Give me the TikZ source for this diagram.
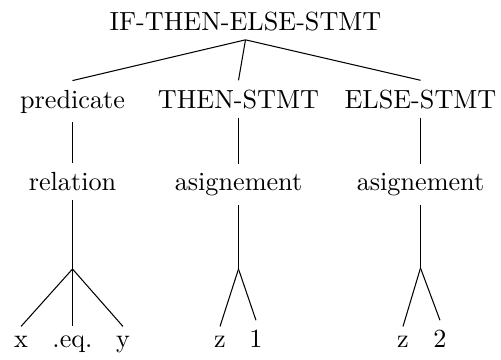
\documentclass[tikz,border=0pt]{standalone}
\usepackage{tikz}
\usetikzlibrary{positioning}

\begin{document}
\begin{tikzpicture}[
      x=0.3817pt, y=-0.3817pt,
      lbl/.style={anchor=base, inner sep=3.33pt},
      edge/.style={draw, line width=0.4pt}
    ]
    \useasboundingbox (0,0) rectangle (501,360);
    \node[lbl] (root) at (245.5,30) {IF-THEN-ELSE-STMT};
    \node[lbl] (pred) at (72.5,108) {predicate};
    \node[lbl] (thenst) at (238.5,108) {THEN-STMT};
    \node[lbl] (elsest) at (420.5,108) {ELSE-STMT};
    \node[lbl] (rel) at (72.5,190) {relation};
    \node[lbl] (asgthen) at (238.5,190) {asignement};
    \node[lbl] (asgelse) at (420.5,190) {asignement};
    \coordinate (relfork) at (72.5,269);
    \coordinate (thenfork) at (238.5,269);
    \coordinate (elsefork) at (420.5,268);
    \node[lbl] (lhs) at (21,347) {x};
    \node[lbl] (op) at (72.5,347) {.eq.};
    \node[lbl] (rhs) at (123,347) {y};
    \node[lbl] (varthen) at (220,347) {z};
    \node[lbl] (valthen) at (256,347) {1};
    \node[lbl] (varelse) at (403,347) {z};
    \node[lbl] (valelse) at (440,347) {2};

    \draw[edge] (root.south) -- (pred.north);
    \draw[edge] (root.south) -- (thenst.north);
    \draw[edge] (root.south) -- (elsest.north);
    \draw[edge] (pred.south) -- (rel.north);
    \draw[edge] (thenst.south) -- (asgthen.north);
    \draw[edge] (elsest.south) -- (asgelse.north);
    \draw[edge] (rel.south) -- (relfork);
    \draw[edge] (asgthen.south) -- (thenfork);
    \draw[edge] (asgelse.south) -- (elsefork);
    \draw[edge] (relfork) -- (lhs.north);
    \draw[edge] (relfork) -- (op.north);
    \draw[edge] (relfork) -- (rhs.north);
    \draw[edge] (thenfork) -- (varthen.north);
    \draw[edge] (thenfork) -- (valthen.north);
    \draw[edge] (elsefork) -- (varelse.north);
    \draw[edge] (elsefork) -- (valelse.north);
  \end{tikzpicture}
\end{document}
